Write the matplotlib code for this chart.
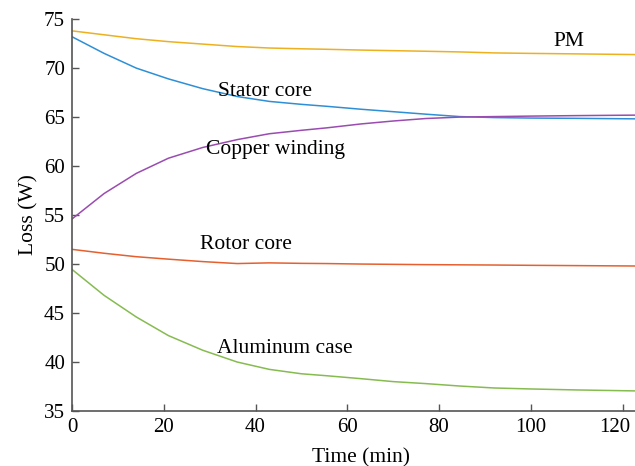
import matplotlib
matplotlib.use("Agg")
import matplotlib.pyplot as plt
import matplotlib.transforms as mtransforms

plt.rcParams['font.family'] = ['Liberation Serif', 'DejaVu Serif']

time = [0, 7, 14, 21, 28.5, 36, 43, 50, 55.5, 63, 70, 77, 84.5, 92, 100, 110, 123]
pm = [73.8, 73.4, 73.0, 72.7, 72.45, 72.2, 72.05, 71.97, 71.92, 71.84, 71.78, 71.72, 71.65, 71.55, 71.5, 71.45, 71.38]
stator = [73.2, 71.5, 70.0, 68.9, 67.9, 67.1, 66.6, 66.3, 66.1, 65.8, 65.55, 65.3, 65.05, 64.95, 64.9, 64.87, 64.82]
copper = [54.6, 57.2, 59.25, 60.8, 61.9, 62.7, 63.3, 63.65, 63.9, 64.3, 64.6, 64.85, 65.0, 65.05, 65.1, 65.15, 65.2]
rotor = [51.5, 51.1, 50.75, 50.5, 50.25, 50.05, 50.12, 50.07, 50.05, 50.0, 49.97, 49.94, 49.92, 49.9, 49.87, 49.84, 49.8]
aluminum = [49.45, 46.8, 44.6, 42.7, 41.2, 40.0, 39.25, 38.8, 38.6, 38.3, 38.0, 37.8, 37.55, 37.35, 37.25, 37.15, 37.05]

labels = ["PM", "Stator core", "Copper winding", "Rotor core", "Aluminum case"]
label_pos = [(108.3, 72.7), (42.0, 67.6), (44.4, 61.7), (37.9, 52.0), (46.4, 41.4)]
series = [pm, stator, copper, rotor, aluminum]
colors = ["#EDB120", "#2E8FD6", "#9A4CB0", "#E5602E", "#86BB50"]

fig = plt.figure(figsize=(6.35, 4.66), dpi=100)
ax = fig.add_axes([0.1134, 0.118, 0.8866, 0.841])

for y, c in zip(series, colors):
    ax.plot(time, y, color=c, lw=1.1)

for t, (x, y) in zip(labels, label_pos):
    ax.text(x, y, t, ha='center', va='center', fontsize=15.5, color='black')

ax.set_xlim(0, 122.7)
ax.set_ylim(35, 75)
ax.set_xticks([0, 20, 40, 60, 80, 100, 120])
ax.set_yticks([35, 40, 45, 50, 55, 60, 65, 70, 75])
ax.tick_params(direction='in', length=5, width=1, colors='#555555', labelcolor='black', labelsize=15, pad=5)
for s in ['top', 'right']:
    ax.spines[s].set_visible(False)
for s in ['left', 'bottom']:
    ax.spines[s].set_color('#555555')
    ax.spines[s].set_linewidth(1.2)
ax.set_xlabel("Time (min)", fontsize=15.5, labelpad=0)
ax.xaxis.set_label_coords(0.513, -0.095)
ax.set_ylabel("Loss (W)", fontsize=15.5, labelpad=4)

# keep the last x tick label inside the figure
last = ax.get_xticklabels()[-1]
last.set_transform(last.get_transform() + mtransforms.ScaledTranslation(-8 / 100, 0, fig.dpi_scale_trans))

fig.savefig("out.png", dpi=100)
